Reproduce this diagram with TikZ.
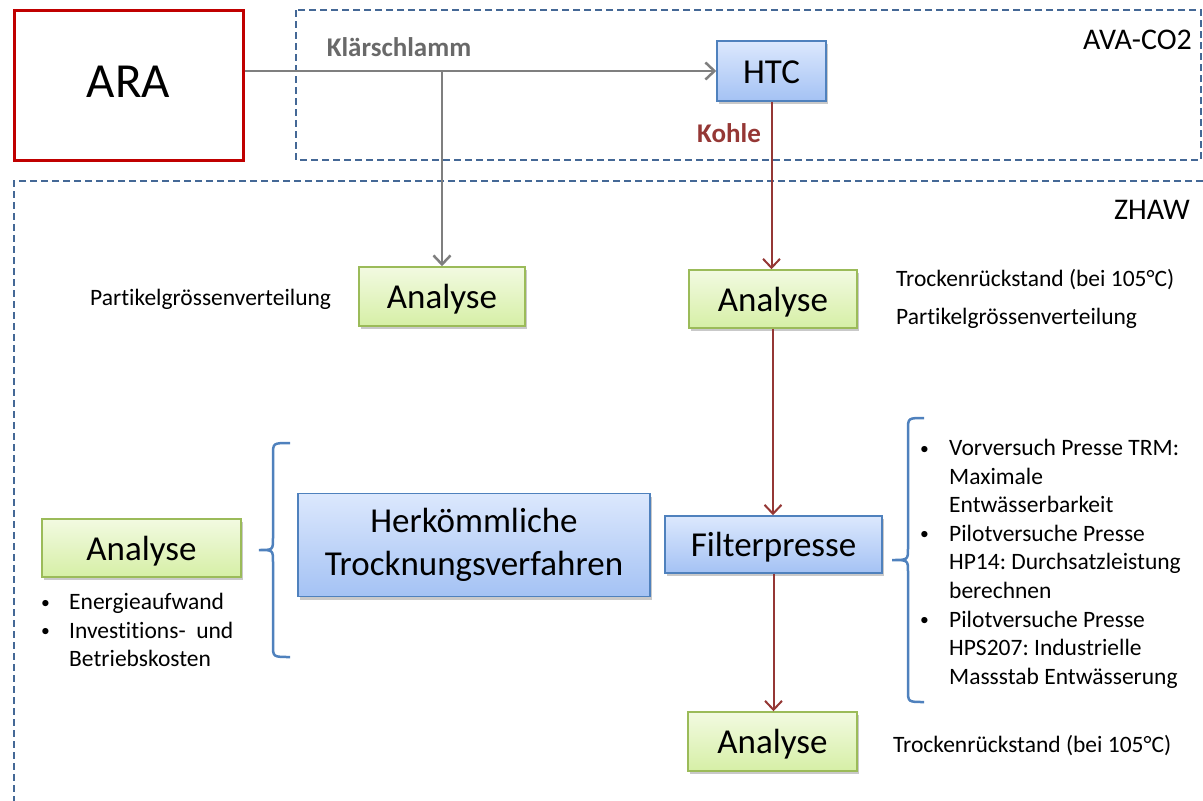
\documentclass[tikz,border=0pt]{standalone}
\usepackage{fontspec}
\setmainfont{Carlito}[Ligatures=NoCommon]
\usetikzlibrary{arrows.meta,shadows}
\frenchspacing

\definecolor{frameblue}{RGB}{68,104,150}
\definecolor{boxblue}{RGB}{79,129,189}
\definecolor{blueTop}{RGB}{220,232,253}
\definecolor{blueBot}{RGB}{164,194,244}
\definecolor{boxgreen}{RGB}{155,187,89}
\definecolor{greenTop}{RGB}{242,250,225}
\definecolor{greenBot}{RGB}{214,239,166}
\definecolor{kohlered}{RGB}{149,55,53}
\definecolor{arared}{RGB}{192,0,0}
\definecolor{flowgray}{RGB}{127,127,127}
\definecolor{labgray}{RGB}{105,105,105}

\begin{document}
\begin{tikzpicture}[
  x=1pt, y=-1pt,
  >={Straight Barb[length=9pt,width=17pt]},
  box/.style={inner sep=0pt, align=center, font=\fontsize{35}{43}\selectfont,
    drop shadow={shadow xshift=2pt, shadow yshift=-3pt, opacity=0.3, fill=black!70}},
  oneline/.style={text height=24pt, text depth=0pt},
  proc/.style={box, draw=boxblue, line width=1.5pt, top color=blueTop, bottom color=blueBot},
  ana/.style={box, oneline, draw=boxgreen, line width=1.5pt, top color=greenTop, bottom color=greenBot},
  plant/.style={draw=arared, line width=3pt, fill=white, inner sep=0pt, oneline, font=\fontsize{49}{58}\selectfont},
  frame/.style={draw=frameblue, line width=1.5pt, dash pattern=on 7pt off 4pt},
  sludge/.style={flowgray, line width=2.5pt},
  coal/.style={->, kohlered, line width=2pt},
  curly/.style={draw=boxblue, line width=2.5pt},
  txt/.style={font=\fontsize{23.5}{28.6}\selectfont, inner sep=0pt},
  flowlab/.style={font=\fontsize{27}{33}\selectfont\bfseries, inner sep=0pt},
  title/.style={font=\fontsize{30}{36}\selectfont, inner sep=0pt},
]
\useasboundingbox (0,0) rectangle (1203,801);

% ---- project frames
\draw[frame] (296,10) rectangle (1201,160);
\draw[frame] (1203,181) -- (14,181) -- (14,801);
\node[title, anchor=east] (avalab) at (1192,40) {AVA-CO2};
\node[title, anchor=east] (zhawlab) at (1190,210) {ZHAW};

% ---- top row
\node[plant, minimum width=229pt, minimum height=150pt] (ara) at (128.5,85) {ARA};
\node[proc, oneline, minimum width=109pt, minimum height=60pt] (htc) at (771.5,71) {HTC};

% ---- analyses and process steps
\node[ana, minimum width=166pt, minimum height=59pt] (ana1) at (442,296.5) {Analyse};
\node[ana, minimum width=168pt, minimum height=58pt] (ana2) at (773,299) {Analyse};
\node[proc, oneline, minimum width=217pt, minimum height=57pt] (filter) at (773.5,544.5) {Filterpresse};
\node[ana, minimum width=169pt, minimum height=59pt] (ana3) at (772.5,741.5) {Analyse};
\node[proc, minimum width=352pt, minimum height=103pt] (dry) at (474,545) {Herkömmliche\\Trocknungsverfahren};
\node[ana, minimum width=199pt, minimum height=58pt] (anaL) at (141.5,548) {Analyse};

% ---- Klärschlamm from ARA
\coordinate (split) at (ana1.north |- htc.west);
\draw[sludge, ->] (ara.east |- htc.west) -- (htc.west);
\draw[sludge, ->] (split) -- (ana1.north);
\node[flowlab, text=labgray] (kslab) at (399,47) {Klärschlamm};

% ---- Kohle chain
\draw[coal] (htc.south) -- (htc.south |- ana2.north);
\draw[coal] (ana2.south) -- (ana2.south |- filter.north);
\draw[coal] (filter.south) -- (filter.south |- ana3.north);
\node[flowlab, text=kohlered, anchor=east] (kohlelab) at (761,133) {Kohle};

% ---- analysis notes
\node[txt, anchor=base west] (p1) at (90,305) {Partikelgrössenverteilung};
\node[txt, anchor=base west] (tr2) at (896,286) {Trockenrückstand (bei 105°C)};
\node[txt, anchor=base west] (p2) at (896,324) {Partikelgrössenverteilung};
\node[txt, anchor=base west] (tr3) at (893,752) {Trockenrückstand (bei 105°C)};

% ---- braces
\draw[curly] (924,418) .. controls (908,418) .. (908,430) -- (908,548)
  .. controls (908,560) .. (892,560) .. controls (908,560) .. (908,572)
  -- (908,690) .. controls (908,702) .. (924,702);
\draw[curly] (290,443) .. controls (273,443) .. (273,455) -- (273,538)
  .. controls (273,550) .. (259,550) .. controls (273,550) .. (273,562)
  -- (273,645) .. controls (273,657) .. (290,657);

% ---- bullet lists
\node[txt, anchor=north west, align=left] (presslist) at (920,439) {%
  \makebox[29pt][l]{\raisebox{1.5pt}{\scalebox{0.75}{\textbullet}}}Vorversuch Presse TRM:\\
  \hspace*{29pt}Maximale\\
  \hspace*{29pt}Entwässerbarkeit\\
  \makebox[29pt][l]{\raisebox{1.5pt}{\scalebox{0.75}{\textbullet}}}Pilotversuche Presse\\
  \hspace*{29pt}HP14: Durchsatzleistung\\
  \hspace*{29pt}berechnen\\
  \makebox[29pt][l]{\raisebox{1.5pt}{\scalebox{0.75}{\textbullet}}}Pilotversuche Presse\\
  \hspace*{29pt}HPS207: Industrielle\\
  \hspace*{29pt}Massstab Entwässerung};
\node[txt, anchor=north west, align=left] (costlist) at (41,593) {%
  \makebox[28pt][l]{\raisebox{1.5pt}{\scalebox{0.75}{\textbullet}}}Energieaufwand\\
  \makebox[28pt][l]{\raisebox{1.5pt}{\scalebox{0.75}{\textbullet}}}Investitions-\ \ und\\
  \hspace*{28pt}Betriebskosten};
\end{tikzpicture}
\end{document}
